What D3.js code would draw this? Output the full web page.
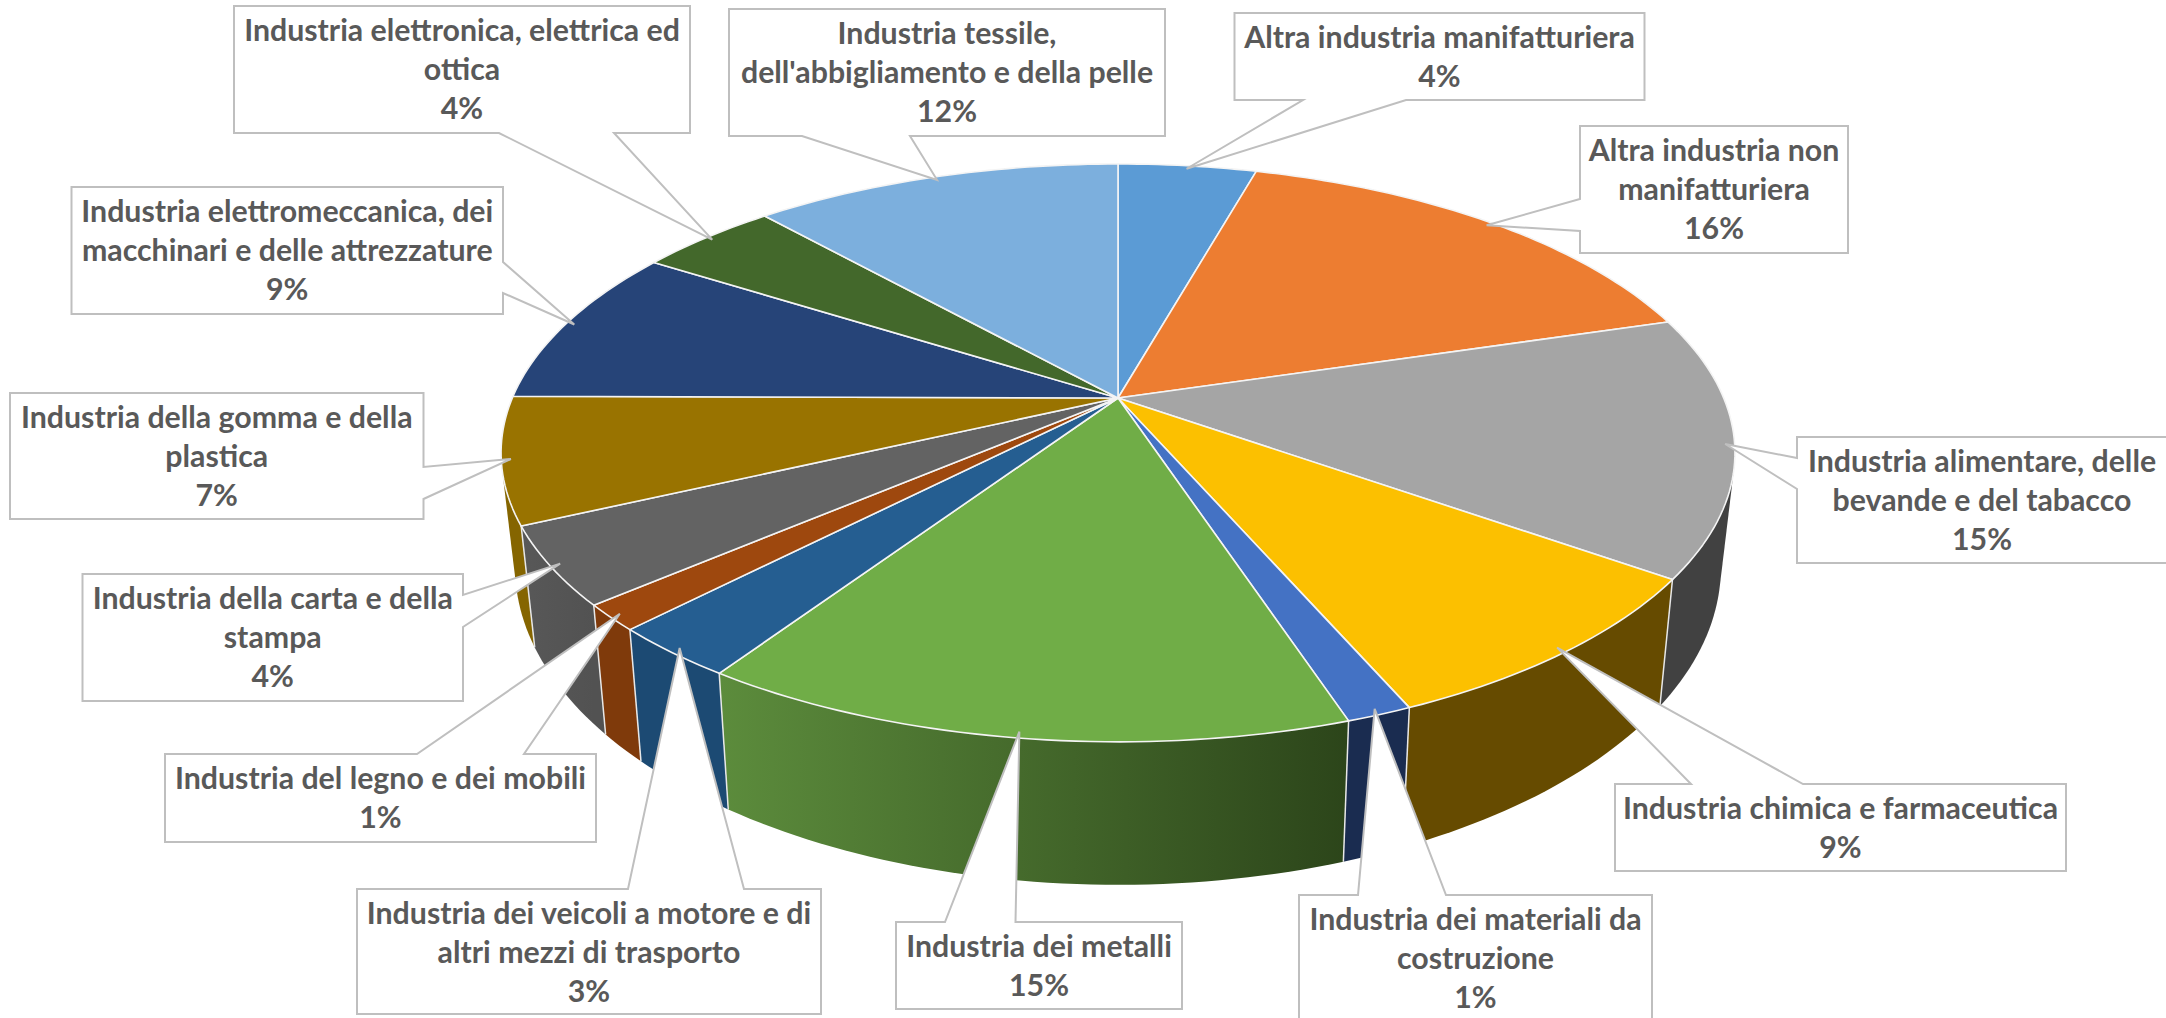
<!DOCTYPE html>
<html>
<head>
<meta charset="utf-8">
<script src="https://cdn.jsdelivr.net/npm/d3@7"></script>
<style>
  html, body { margin: 0; background: #fff; overflow: hidden; }
  text { font-family: Lato, sans-serif; font-weight: 700; font-size: 30.3px; fill: #595959; text-anchor: middle; }
</style>
</head>
<body>
<svg id="chart"></svg>
<script>
const width = 2166;
const height = 1018;

// \n marks the line breaks of the data labels
const categories = [
  "Altra industria manifatturiera",
  "Altra industria non\nmanifatturiera",
  "Industria alimentare, delle\nbevande e del tabacco",
  "Industria chimica e farmaceutica",
  "Industria dei materiali da\ncostruzione",
  "Industria dei metalli",
  "Industria dei veicoli a motore e di\naltri mezzi di trasporto",
  "Industria del legno e dei mobili",
  "Industria della carta e della\nstampa",
  "Industria della gomma e della\nplastica",
  "Industria elettromeccanica, dei\nmacchinari e delle attrezzature",
  "Industria elettronica, elettrica ed\nottica",
  "Industria tessile,\ndell'abbigliamento e della pelle"
];
const shares = [4.35, 16.0, 14.5, 8.65, 1.45, 14.4, 2.9, 1.45, 4.35, 7.05, 8.9, 4.4, 11.6];
const shareLabels = ["4%", "16%", "15%", "9%", "1%", "15%", "3%", "1%", "4%", "7%", "9%", "4%", "12%"];

const topColors = ["#5b9bd5", "#ed7d31", "#a5a5a5", "#fcc000", "#4472c4", "#70ad47", "#255e91", "#9e480e", "#636363", "#997300", "#264478", "#43682b", "#7cafdd"];
const wallLeft = ["#3a6d9b", "#8e4b1d", "#414141", "#664b00", "#1a2c50", "#5c8c3c", "#1c4a73", "#7f3a0b", "#585858", "#856500", "#1a2c50", "#2c451b", "#4a7ba8"];
const wallRight = ["#3a6d9b", "#8e4b1d", "#414141", "#664b00", "#1a2c50", "#2c451a", "#1c4a73", "#7f3a0b", "#525252", "#856500", "#1a2c50", "#2c451b", "#4a7ba8"];

// label boxes: x0, y0, x1, y1, side of the pointer, pointer base along that side
const boxes = [
  [1234.5, 13, 1644.5, 100, "bottom", 1303, 1406],
  [1580, 126, 1848, 253, "left", 199, 231],
  [1797, 437, 2167, 563, "left", 458, 489],
  [1615, 784, 2066, 871, "top", 1691, 1803],
  [1299, 895, 1652, 1022, "top", 1358, 1446],
  [896, 922, 1182, 1009, "top", 945, 1015.5],
  [357, 889, 821, 1014, "top", 628, 744],
  [165, 754, 596, 842, "top", 417, 524],
  [82.5, 574, 463, 701, "right", 595, 627],
  [10, 393, 423.5, 519, "right", 467, 499],
  [71.5, 187, 503, 314, "right", 262, 293],
  [234, 6, 690, 133, "bottom", 499, 614],
  [729, 9, 1165, 136, "bottom", 802, 910]
];

// the pie seen in perspective: the centre of the disc sits above the centre of its outline
const apex = { x: 1118, y: 398 };
const spreadX = 605.7;
const spreadY = 278.5;
const tilt = 0.19;
const topEllipse = { x: 1118, y: 453, rx: 617, ry: 289 };
const bottomEllipse = { x: 1118, y: 567, rx: 603, ry: 318 };
const lineHeight = 39;

const svg = d3.select("#chart")
  .attr("width", width)
  .attr("height", height)
  .attr("viewBox", [0, 0, width, height]);

const defs = svg.append("defs");

function project(angle, r = 1) {
  const w = 1 + tilt * r * Math.cos(angle);
  return [
    apex.x + spreadX * r * Math.sin(angle) / w,
    apex.y - spreadY * r * Math.cos(angle) / w
  ];
}

// same place on the outline of the lower edge of the disc
function lower(p) {
  return [
    bottomEllipse.x + bottomEllipse.rx * (p[0] - topEllipse.x) / topEllipse.rx,
    bottomEllipse.y + bottomEllipse.ry * (p[1] - topEllipse.y) / topEllipse.ry
  ];
}

function rim(d) {
  const steps = Math.max(4, Math.ceil((d.endAngle - d.startAngle) / 0.02));
  return d3.range(steps + 1).map(i =>
    project(d.startAngle + (d.endAngle - d.startAngle) * i / steps));
}

const line = d3.line();

const pie = d3.pie().sort(null).value(d => d);
const slices = pie(shares).map((d, i) => ({ ...d, i, rim: rim(d) }));

// outer walls, back to front. The hull gives the straight silhouette at the far
// left and right; what it adds on the inner side is covered by the top of the disc
const walls = svg.append("g").attr("class", "walls");
const wallOrder = slices.slice().sort((a, b) => d3.mean(a.rim, p => p[1]) - d3.mean(b.rim, p => p[1]));

wallOrder.forEach(d => {
  const id = `wall-${d.i}`;
  const grad = defs.append("linearGradient")
    .attr("id", id)
    .attr("gradientUnits", "userSpaceOnUse")
    .attr("x1", d3.min(d.rim, p => p[0]))
    .attr("x2", d3.max(d.rim, p => p[0]))
    .attr("y1", 0)
    .attr("y2", 0);
  grad.append("stop").attr("offset", 0).attr("stop-color", wallLeft[d.i]);
  grad.append("stop").attr("offset", 1).attr("stop-color", wallRight[d.i]);

  walls.append("path")
    .attr("d", line(d3.polygonHull(d.rim.concat(d.rim.map(lower)))) + "Z")
    .attr("fill", `url(#${id})`);
});

// white seams between the walls that can be seen
walls.selectAll("line")
  .data(slices.filter(d => project(d.startAngle)[1] > topEllipse.y))
  .join("line")
  .each(function(d) {
    const a = project(d.startAngle);
    const b = lower(a);
    d3.select(this)
      .attr("x1", a[0]).attr("y1", a[1])
      .attr("x2", b[0]).attr("y2", b[1]);
  })
  .attr("stroke", "#e8e8e8")
  .attr("stroke-width", 1.5);

// top of the disc
svg.append("g")
  .attr("class", "slices")
  .selectAll("path")
  .data(slices)
  .join("path")
  .attr("d", d => line([[apex.x, apex.y]].concat(d.rim)) + "Z")
  .attr("fill", d => topColors[d.i])
  .attr("stroke", "#f4f4f4")
  .attr("stroke-width", 1.6)
  .attr("stroke-linejoin", "round");

// label callouts
function calloutPath(box, tip) {
  const [x0, y0, x1, y1, side, a, b] = box;
  let pts;
  if (side === "top") pts = [[x0, y0], [a, y0], tip, [b, y0], [x1, y0], [x1, y1], [x0, y1]];
  if (side === "bottom") pts = [[x0, y0], [x1, y0], [x1, y1], [b, y1], tip, [a, y1], [x0, y1]];
  if (side === "left") pts = [[x0, y0], [x1, y0], [x1, y1], [x0, y1], [x0, b], tip, [x0, a]];
  if (side === "right") pts = [[x0, y0], [x1, y0], [x1, a], tip, [x1, b], [x1, y1], [x0, y1]];
  return line(pts) + "Z";
}

const callouts = svg.append("g")
  .attr("class", "callouts")
  .selectAll("g")
  .data(slices)
  .join("g");

callouts.append("path")
  .attr("d", d => calloutPath(boxes[d.i], project((d.startAngle + d.endAngle) / 2, 0.985)))
  .attr("fill", "#fff")
  .attr("stroke", "#bfbfbf")
  .attr("stroke-width", 2);

callouts.append("text")
  .attr("transform", d => `translate(${(boxes[d.i][0] + boxes[d.i][2]) / 2},${boxes[d.i][1] + 35})`)
  .selectAll("tspan")
  .data(d => categories[d.i].split("\n").concat(shareLabels[d.i]))
  .join("tspan")
  .attr("x", 0)
  .attr("y", (d, i) => i * lineHeight)
  .text(d => d);
</script>
</body>
</html>
